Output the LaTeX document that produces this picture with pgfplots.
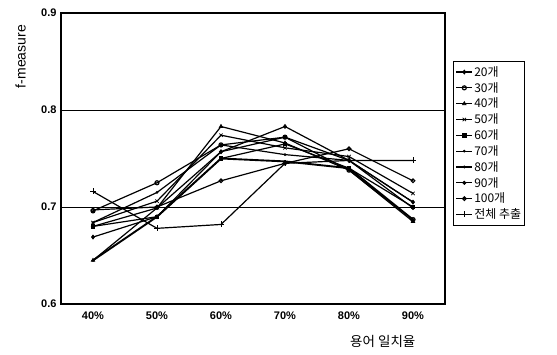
\documentclass[border=0pt]{standalone}
\usepackage{fontspec}
\setmainfont{Liberation Sans}
\newfontfamily\cjk{Noto Sans CJK KR}
\usepackage{pgfplots}
\pgfplotsset{compat=1.18}
\begin{document}
\begin{tikzpicture}
\begin{axis}[
  name=ax,
  scale only axis,
  width=384pt, height=291pt,
  xmin=-0.5, xmax=5.5, ymin=0.6, ymax=0.9,
  xtick={0,1,2,3,4,5},
  xticklabels={40\%,50\%,60\%,70\%,80\%,90\%},
  major x tick style={draw=none},
  extra x ticks={0.5,1.5,2.5,3.5,4.5},
  extra x tick labels={},
  extra x tick style={tick style={draw=black, line width=0.6pt}, major tick length=3pt, tickpos=left},
  ytick={0.6,0.7,0.8,0.9},
  yticklabels={0.6,0.7,0.8,0.9},
  ymajorgrids, grid style={black, line width=0.8pt},
  y tick style={draw=none},
  tick label style={font=\fontsize{11}{12}\selectfont\bfseries},
  xticklabel style={yshift=-4pt},
  yticklabel style={xshift=-1pt},
  axis line style={black, line width=1.1pt},
  ylabel={f-measure},
  ylabel style={font=\fontsize{14}{15}\selectfont, at={(axis description cs:-0.105,0.85)}, anchor=center},
  xlabel={\cjk 용어 일치율},
  xlabel style={font=\cjk\fontsize{13.5}{14}\selectfont, at={(axis description cs:0.838,-0.127)}, anchor=center},
  legend style={at={(axis description cs:1.021,0.835)}, anchor=north west, draw=black, line width=0.6pt,
    font=\cjk\fontsize{12}{12}\selectfont, row sep=0.4pt, inner xsep=2pt, inner ysep=3pt,
    nodes={inner xsep=1pt}},
  legend cell align=left,
  legend image code/.code={\draw[mark repeat=2,mark phase=2,#1] plot coordinates {(0pt,0pt) (8pt,0pt) (16pt,0pt)};},
  every axis plot/.append style={black, line width=1.2pt, mark size=2pt, mark options={solid, line width=0.7pt}},
  clip=false,
]
\addplot[mark=diamond*] coordinates {(0,0.669) (1,0.690) (2,0.757) (3,0.783) (4,0.748) (5,0.705)};
\addlegendentry{20개}
\addplot[mark=o, mark options={fill=white}] coordinates {(0,0.696) (1,0.725) (2,0.764) (3,0.772) (4,0.738) (5,0.687)};
\addlegendentry{30개}
\addplot[mark=triangle*] coordinates {(0,0.645) (1,0.699) (2,0.783) (3,0.766) (4,0.738) (5,0.685)};
\addlegendentry{40개}
\addplot[mark=x, mark size=2.4pt] coordinates {(0,0.684) (1,0.706) (2,0.774) (3,0.761) (4,0.752) (5,0.714)};
\addlegendentry{50개}
\addplot[mark=square*, mark size=1.7pt] coordinates {(0,0.680) (1,0.690) (2,0.750) (3,0.765) (4,0.740) (5,0.700)};
\addlegendentry{60개}
\addplot[mark=*, mark size=1pt] coordinates {(0,0.684) (1,0.715) (2,0.764) (3,0.754) (4,0.748) (5,0.705)};
\addlegendentry{70개}
\addplot[mark=*, mark size=1.1pt, line width=1.9pt] coordinates {(0,0.645) (1,0.690) (2,0.750) (3,0.747) (4,0.740) (5,0.687)};
\addlegendentry{80개}
\addplot[mark=*, mark size=1.7pt] coordinates {(0,0.680) (1,0.699) (2,0.757) (3,0.772) (4,0.748) (5,0.699)};
\addlegendentry{90개}
\addplot[mark=o, mark size=1.8pt, mark options={fill=white}] coordinates {(0,0.697) (1,0.700) (2,0.727) (3,0.745) (4,0.760) (5,0.727)};
\addlegendentry{100개}
\addplot[mark=+, mark size=3pt] coordinates {(0,0.716) (1,0.678) (2,0.682) (3,0.745) (4,0.748) (5,0.748)};
\addlegendentry{전체 추출}
\end{axis}
\pgfresetboundingbox
\path ([shift={(-61pt,-51pt)}]ax.south west) rectangle ([shift={(112pt,13pt)}]ax.north east);
\end{tikzpicture}
\end{document}
